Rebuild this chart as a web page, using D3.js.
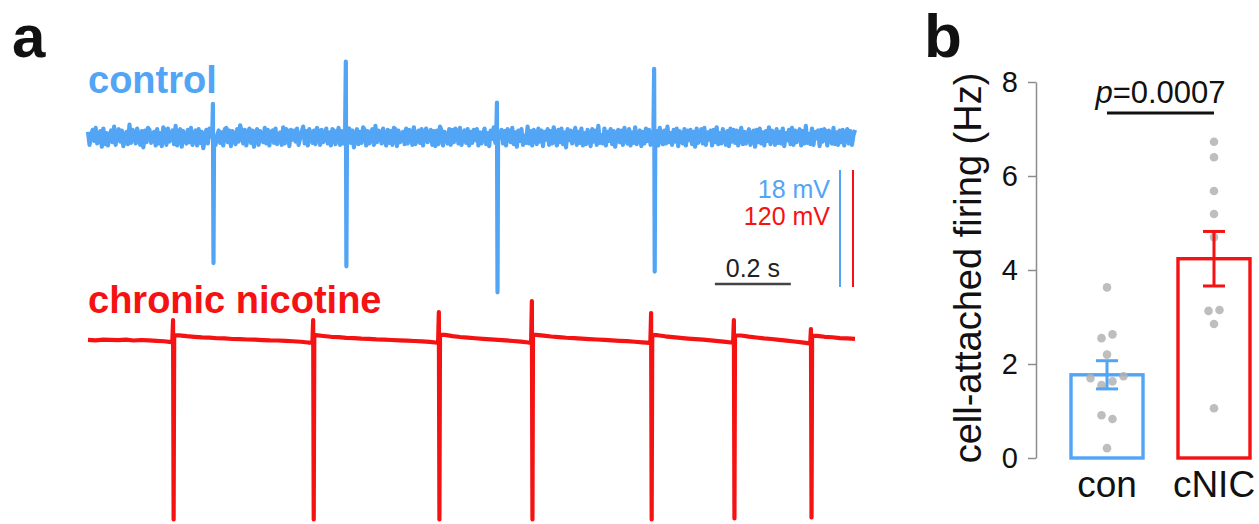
<!DOCTYPE html>
<html>
<head>
<meta charset="utf-8">
<script src="https://cdn.jsdelivr.net/npm/d3@7"></script>
<style>
body{margin:0;background:#fff;}
text{font-family:"Liberation Sans",Arial,Helvetica,sans-serif;}
</style>
</head>
<body>
<script>
// ---- panel a: traces (mV), sampled evenly over traceDur seconds ----
let traceDur=2.02;
let ctlNoise=[
0.8,-1.2,0.3,1.1,-0.6,1.4,-1.0,-0.2,0.9,-1.5,
1.3,-1.1,0.6,-1.3,0.2,1.0,-0.8,1.6,-1.2,0.4,
1.2,-0.7,1.0,-1.4,-0.3,0.8,-1.1,1.9,-0.9,1.1,
0.7,-1.0,1.3,0.1,-1.2,0.9,-1.6,1.0,-0.8,1.4,
1.1,-0.9,-0.2,0.8,-1.3,1.2,-1.0,0.6,-1.4,1.5,
0.9,-1.2,1.3,-0.7,0.3,1.0,-1.1,1.7,-1.3,0.8,
1.2,-1.5,0.9,-0.4,-1.0,1.1,-0.8,1.4,-1.2,0.2,
1.0,-1.3,1.2,-0.9,0.8,-1.7,-0.3,1.1,-1.0,1.3,
0.9,-1.1,1.5,-1.2,0.2,1.0,-0.9,0.7,-1.3,1.2,
1.4,-0.8,1.0,-1.4,0.9,-0.3,-1.1,1.2,-0.7,1.8,
0.8,-1.0,1.1,-1.3,0.4,1.3,-0.9,1.0,-1.5,0.7,
1.2,-1.2,0.9,-0.2,-0.8,1.4,-1.0,1.1,-1.3,0.8,
1.0,-0.9,1.3,-1.1,0.3,0.7,-1.2,1.5,-1.0,1.2,
0.9,-1.4,1.1,-0.4,1.0,-0.7,1.3,-1.2,-0.2,0.8,
1.6,-1.0,0.9,-1.3,1.2,0.2,-0.9,1.0,-1.1,1.4,
0.8,-1.2,1.1,-0.8,-0.1,1.3,-1.0,0.7,-1.3,1.2,
1.0,-1.1,0.3,1.4,-1.2,0.9,-1.0,1.1,-1.4,0.8,
1.3,-0.9,1.0,-1.6,-0.2,1.2,-1.1,0.8,-0.9,1.5,
1.1,-1.3,0.9,-1.0,0.4,1.2,-1.2,1.7,-0.8,1.0,
0.8,-1.0,1.3,-0.3,-1.3,1.1,-0.9,0.9,-1.2,1.4,
1.2,-1.4,1.0,-0.8,0.2,0.8,-1.1,1.3,-1.0,1.1,
0.9,-1.2,1.5,-1.1,-0.4,1.0,-0.9,1.2,-1.3,0.7,
1.3,-0.8,0.1,1.1,-1.2,0.9,-1.4,1.0,-1.1,1.6,
1.0,-1.3,0.8,-0.2,-1.0,1.2,-1.2,1.1,-0.8,1.3,
0.9,-1.0,1.4,-1.2,0.3,1.0,-0.9,1.2,-1.3,0.8,
-0.9,1.1,-0.5,1.2,-1.3,0.7,-1.0,0.4,1.3,-1.1,
0.6,-1.4,1.0,-0.3,1.5,-0.9,0.8,-1.2,-0.1,1.1,
-1.0,0.9,-1.3,1.2,0.5,-0.8,1.4,-1.1,0.7,-1.5,
1.0,-0.6,1.2,-1.2,0.2,-0.9,1.6,-1.0,0.9,-1.3,
1.1,0.3,-1.1,1.3,-0.7,1.0,-1.4,0.8,-0.4,1.2,
-1.2,0.9,-1.0,1.5,-0.2,-1.3,1.1,-0.8,1.3,-1.1,
0.7,-1.6,1.2,-0.5,1.0,-1.0,0.4,1.4,-1.2,0.8,
-0.9,1.3,-1.3,0.6,-1.1,1.1,0.1,-1.4,1.2,-0.7,
1.0,-1.2,1.7,-0.9,0.3,-1.0,1.3,-1.3,0.8,-0.6,
1.2,-1.1,0.9,-1.5,0.5,1.1,-0.8,1.0,-1.2,1.4,
-0.3,-1.0,1.2,-1.3,0.7,-0.9,1.5,-1.1,0.2,1.0,
-1.4,0.8,-1.0,1.3,-0.6,1.1,-1.2,0.4,1.2,-0.9,
0.9,-1.3,1.4,-0.2,-1.1,1.0,-1.0,1.6,-0.8,0.6,
-1.2,1.1,-0.7,1.3,-1.4,0.9,0.3,-1.0,1.2,-1.3,
1.0,-0.5,1.1,-1.1,0.8,-1.5,1.3,-0.9,0.1,1.2,
-1.0,1.4,-1.2,0.7,-0.4,1.0,-1.3,1.1,-0.8,1.5,
-1.1,0.6,-1.0,1.2,0.2,-1.2,0.9,-1.4,1.3,-0.7,
1.1,-0.9,1.0,-1.3,0.5,1.4,-1.1,0.8,-1.0,0.3,
1.2,-1.2,-0.3,1.0,-1.5,1.1,-0.8,1.3,-1.0,0.7,
-1.3,0.9,-0.6,1.5,-1.1,1.0,0.2,-1.2,1.2,-0.9,
0.8,-1.0,1.3,-1.4,0.6,-0.5,1.1,-1.1,1.4,-1.2,
1.0,-0.8,0.4,1.2,-1.3,0.9,-1.0,1.7,-0.9,0.5,
-1.1,1.3,-1.2,0.8,-0.2,1.0,-1.4,1.1,-0.7,1.2,
0.9,-1.3,1.0,-0.4,-1.0,1.4,-1.1,0.7,-1.2,1.0,
-0.8,1.1,-1.3,0.6,1.2,-1.0,0.9,-1.2,0.3,1.1];
let ctlSpikeT=[0.329,0.679,1.077,1.491];
let ctlSpikePeak=[5.1,11.6,5.3,10.5];
let ctlSpikeTrough=[-19.4,-19.9,-23.9,-20.7];

let nicBase=[
0.2,-0.3,0.4,0.1,-0.2,0.3,-0.5,0.0,-0.4,-0.8,-1.3,-2.2,
4.8,3.9,3.2,2.6,2.4,1.8,1.6,1.0,0.9,0.5,0.3,-0.1,-0.4,-0.5,-0.9,-1.3,-1.8,-2.6,
5.0,4.1,3.3,2.9,2.2,1.9,1.4,1.1,0.6,0.4,0.0,-0.3,-0.6,-1.0,-1.4,-2.0,-2.8,
5.2,4.0,3.1,2.4,1.8,1.2,0.7,0.2,-0.4,-1.0,-1.7,-2.6,
5.3,4.4,3.6,3.0,2.3,1.9,1.4,0.9,0.5,0.1,-0.3,-0.8,-1.2,-1.8,-2.4,-3.0,
4.9,3.8,3.0,2.2,1.5,0.9,0.3,-0.4,-1.1,-1.9,-2.8,
4.6,3.5,2.6,1.7,1.0,0.2,-0.6,-1.5,-2.5,-3.4,
4.2,3.3,2.8,2.0,1.6,1.2];
let nicSpikeT=[0.224,0.593,0.924,1.169,1.483,1.701,1.904];
let nicSpikePeak=[20.5,20.5,28.7,40.0,27.7,20.5,11.3];
let nicSpikeTrough=[-184,-184,-184,-184,-184,-183,-182];

// ---- panel b: firing rates (Hz) ----
let groups=["con","cNIC"];
let means=[1.77,4.24];
let sems=[0.30,0.58];
let conPts=[3.63,2.55,2.63,2.2,1.7,1.74,1.55,1.63,0.91,0.83,0.21];
let conSlot=[0,-1,1,0,-3,3,-1,1,-1,1,0];
let nicPts=[6.73,6.4,5.68,5.19,4.7,3.13,3.15,2.85,1.06];
let nicSlot=[0,0,0,0,0,-1,1,0,0];
let yTicks=[0,2,4,6,8];
let pText="=0.0007";

let blueC="#52a4f5", redC="#f51212", dotC="#b3b3b3";

let svg=d3.select("body").append("svg").attr("width",1259).attr("height",524);

// ---------- panel a ----------
let xT=d3.scaleLinear().domain([0,traceDur]).range([88,855]);
let yCtl=d3.scaleLinear().domain([0,18]).range([137,137-117]);
let yNic=d3.scaleLinear().domain([0,120]).range([340,340-117]);

function mkTrace(vals,spT,spPk,spTr,keepStep){
  let dt=traceDur/(vals.length-1);
  let pts=vals.map((v,i)=>[i*dt,v]).filter(p=>!spT.some(t=>p[0]>t-0.003&&p[0]<t+0.005));
  spT.forEach((t,k)=>{
    let prv=keepStep?vals[Math.max(0,Math.floor(t/dt))]:0;
    let nxt=keepStep?vals[Math.min(vals.length-1,Math.ceil(t/dt))]:0;
    pts.push([t-0.002,prv],[t,spPk[k]],[t+0.0015,spTr[k]],[t+0.003,nxt]);
  });
  pts.sort((a,b)=>a[0]-b[0]);
  return pts;
}

let ctlLine=d3.line().x(d=>xT(d[0])).y(d=>yCtl(d[1]));
let nicLine=d3.line().x(d=>xT(d[0])).y(d=>yNic(d[1]));

svg.append("path").datum(mkTrace(ctlNoise,ctlSpikeT,ctlSpikePeak,ctlSpikeTrough,false))
  .attr("d",ctlLine).attr("fill","none").attr("stroke",blueC).attr("stroke-width",4.2).attr("stroke-linejoin","round");
svg.append("path").datum(mkTrace(nicBase,nicSpikeT,nicSpikePeak,nicSpikeTrough,true))
  .attr("d",nicLine).attr("fill","none").attr("stroke",redC).attr("stroke-width",4.2).attr("stroke-linejoin","round");

svg.append("text").attr("x",12).attr("y",57).attr("font-size",60).attr("font-weight","bold").attr("fill","#111").text("a");
svg.append("text").attr("x",88).attr("y",93).attr("font-size",38).attr("font-weight","bold").attr("fill",blueC).text("control");
svg.append("text").attr("x",88).attr("y",313).attr("font-size",38).attr("font-weight","bold").attr("fill",redC).text("chronic nicotine");

// scale bars
let sbTop=170;
svg.append("line").attr("x1",840).attr("x2",840).attr("y1",sbTop).attr("y2",sbTop+yCtl(0)-yCtl(18)).attr("stroke",blueC).attr("stroke-width",2);
svg.append("line").attr("x1",853).attr("x2",853).attr("y1",sbTop).attr("y2",sbTop+yNic(0)-yNic(120)).attr("stroke",redC).attr("stroke-width",2);
svg.append("text").attr("x",830).attr("y",198).attr("text-anchor","end").attr("font-size",25).attr("fill",blueC).text("18 mV");
svg.append("text").attr("x",830).attr("y",225).attr("text-anchor","end").attr("font-size",25).attr("fill",redC).text("120 mV");
svg.append("line").attr("x1",xT(1.651)).attr("x2",xT(1.851)).attr("y1",284).attr("y2",284).attr("stroke","#444").attr("stroke-width",2.5);
svg.append("text").attr("x",xT(1.751)).attr("y",277).attr("text-anchor","middle").attr("font-size",25).attr("fill","#222").text("0.2 s");

// ---------- panel b ----------
let yB=d3.scaleLinear().domain([0,8]).range([458,82]);
let xB=d3.scaleBand().domain(groups).range([1071,1250]).paddingInner(0.327);
let cols=[blueC,redC];

svg.append("text").attr("x",924).attr("y",57).attr("font-size",62).attr("font-weight","bold").attr("fill","#111").text("b");

let ax=svg.append("g").attr("transform","translate(1036,0)")
  .call(d3.axisLeft(yB).tickValues(yTicks).tickSize(8).tickSizeOuter(0).tickPadding(10));
ax.select(".domain").attr("stroke","#8c8c8c").attr("stroke-width",1.5);
ax.selectAll(".tick line").attr("stroke","#8c8c8c").attr("stroke-width",1.5);
ax.selectAll(".tick text").attr("font-size",29).attr("fill","#111")
  .attr("font-family","'Liberation Sans',Arial,sans-serif");

svg.append("text").attr("transform","translate(981,268) rotate(-90)").attr("text-anchor","middle")
  .attr("font-size",38).attr("fill","#111").text("cell-attached firing (Hz)");

svg.selectAll("rect.bar").data(groups).enter().append("rect").attr("class","bar")
  .attr("x",g=>xB(g)).attr("y",(g,i)=>yB(means[i])).attr("width",xB.bandwidth())
  .attr("height",(g,i)=>yB(0)-yB(means[i])).attr("fill","none").attr("stroke",(g,i)=>cols[i]).attr("stroke-width",3.4);

let pts=[];
conPts.forEach((v,i)=>pts.push({g:"con",v:v,s:conSlot[i]}));
nicPts.forEach((v,i)=>pts.push({g:"cNIC",v:v,s:nicSlot[i]}));
let cx=g=>xB(g)+xB.bandwidth()/2;
svg.selectAll("circle.pt").data(pts).enter().append("circle").attr("class","pt")
  .attr("cx",d=>cx(d.g)+d.s*5.5).attr("cy",d=>yB(d.v)).attr("r",4.3)
  .attr("fill",dotC).attr("opacity",0.85);

groups.forEach((g,i)=>{
  let x=cx(g), hi=yB(means[i]+sems[i]), lo=yB(means[i]-sems[i]);
  let e=svg.append("g").attr("stroke",cols[i]).attr("stroke-width",3);
  e.append("line").attr("x1",x).attr("x2",x).attr("y1",hi).attr("y2",lo);
  e.append("line").attr("x1",x-11).attr("x2",x+11).attr("y1",hi).attr("y2",hi);
  e.append("line").attr("x1",x-11).attr("x2",x+11).attr("y1",lo).attr("y2",lo);
});

svg.selectAll("text.xl").data(groups).enter().append("text").attr("class","xl")
  .attr("x",g=>cx(g)).attr("y",497).attr("text-anchor","middle").attr("font-size",37).attr("fill","#111").text(g=>g);

// significance
svg.append("line").attr("x1",cx("con")).attr("x2",cx("cNIC")).attr("y1",113).attr("y2",113).attr("stroke","#111").attr("stroke-width",3);
let pt=svg.append("text").attr("x",(cx("con")+cx("cNIC"))/2).attr("y",103).attr("text-anchor","middle").attr("font-size",31).attr("fill","#111");
pt.append("tspan").attr("font-style","italic").text("p");
pt.append("tspan").text(pText);
</script>
</body>
</html>
